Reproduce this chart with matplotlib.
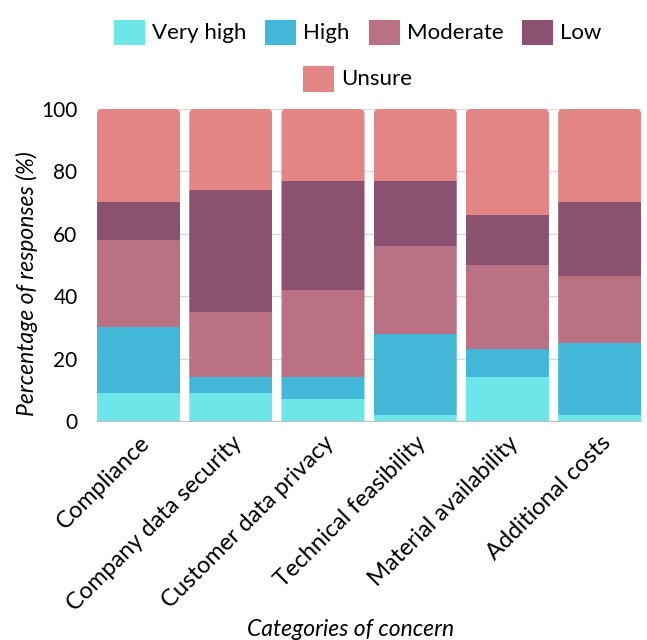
import numpy as np
import matplotlib.pyplot as plt
from matplotlib.patches import FancyBboxPatch, Patch

plt.rcParams['font.family'] = ['Lato', 'DejaVu Sans']

categories = ['Compliance', 'Company data security', 'Customer data privacy',
              'Technical feasibility', 'Material availability', 'Additional costs']
levels = ['Very high', 'High', 'Moderate', 'Low', 'Unsure']
very_high = [9, 9, 7, 2, 14, 2]
high = [21, 5, 7, 26, 9, 23]
moderate = [28, 21, 28, 28, 27, 21.5]
low = [12, 39, 35, 21, 16, 23.5]
unsure = [30, 26, 23, 23, 34, 30]
colors = ['#6ce6e8', '#42b7d7', '#ba7184', '#8a5270', '#e38485']

fig = plt.figure(figsize=(6.47, 6.4), dpi=100)
ax = fig.add_axes([0.15, 0.342, 0.841, 0.488])

x = np.arange(len(categories))
width = 0.9
bottom = np.zeros(len(categories))
columns = [[] for _ in categories]
for vals, col, lab in zip([very_high, high, moderate, low, unsure], colors, levels):
    bars = ax.bar(x, vals, width, bottom=bottom, color=col, label=lab,
                  zorder=2, linewidth=0)
    for i, b in enumerate(bars):
        columns[i].append(b)
    bottom += np.array(vals)

ax.set_xlim(-0.45, len(categories) - 0.55)
ax.set_ylim(0, 100)

# round off the top corners of each stack
fig.canvas.draw()
p0 = ax.transData.transform((0, 0))
p1 = ax.transData.transform((1, 1))
aspect = (1 / (p1[1] - p0[1])) / (1 / (p1[0] - p0[0]))
for i, segs in enumerate(columns):
    clip = FancyBboxPatch((x[i] - width / 2, -20), width, 120,
                          boxstyle='round,pad=0,rounding_size=0.06',
                          mutation_aspect=aspect, transform=ax.transData,
                          facecolor='none', edgecolor='none')
    ax.add_patch(clip)
    for s in segs:
        s.set_clip_path(clip)

ax.set_yticks(range(0, 101, 20))
ax.yaxis.grid(True, color='#d9d9d9', linewidth=1, zorder=0)
ax.set_axisbelow(True)
for side in ['top', 'right', 'left']:
    ax.spines[side].set_visible(False)
ax.spines['bottom'].set_color('#bfbfbf')
ax.tick_params(axis='y', length=0, labelsize=15, pad=14)
ax.tick_params(axis='x', length=0, labelsize=17, pad=8)
ax.set_xticks(x)
ax.set_xticklabels(categories, rotation=45, ha='right', rotation_mode='anchor')
ax.set_ylabel('Percentage of responses (%)', fontsize=16.5, style='italic')
ax.yaxis.set_label_coords(-0.108, 0.44)
ax.set_xlabel('Categories of concern', fontsize=16.5, style='italic', va='top')
ax.xaxis.set_label_coords(0.465, -0.632)

handles = [Patch(facecolor=c, edgecolor=c, linewidth=0.8) for c in colors]
leg_kw = dict(frameon=False, fontsize=16, handlelength=1.35, handleheight=1.35,
              handletextpad=0.36)
fig.legend(handles[:4], levels[:4], loc='center', bbox_to_anchor=(0.553, 0.95),
           ncol=4, columnspacing=0.85, **leg_kw)
fig.legend(handles[4:], levels[4:], loc='center', bbox_to_anchor=(0.553, 0.878),
           **leg_kw)

fig.savefig('out.png', dpi=100)
